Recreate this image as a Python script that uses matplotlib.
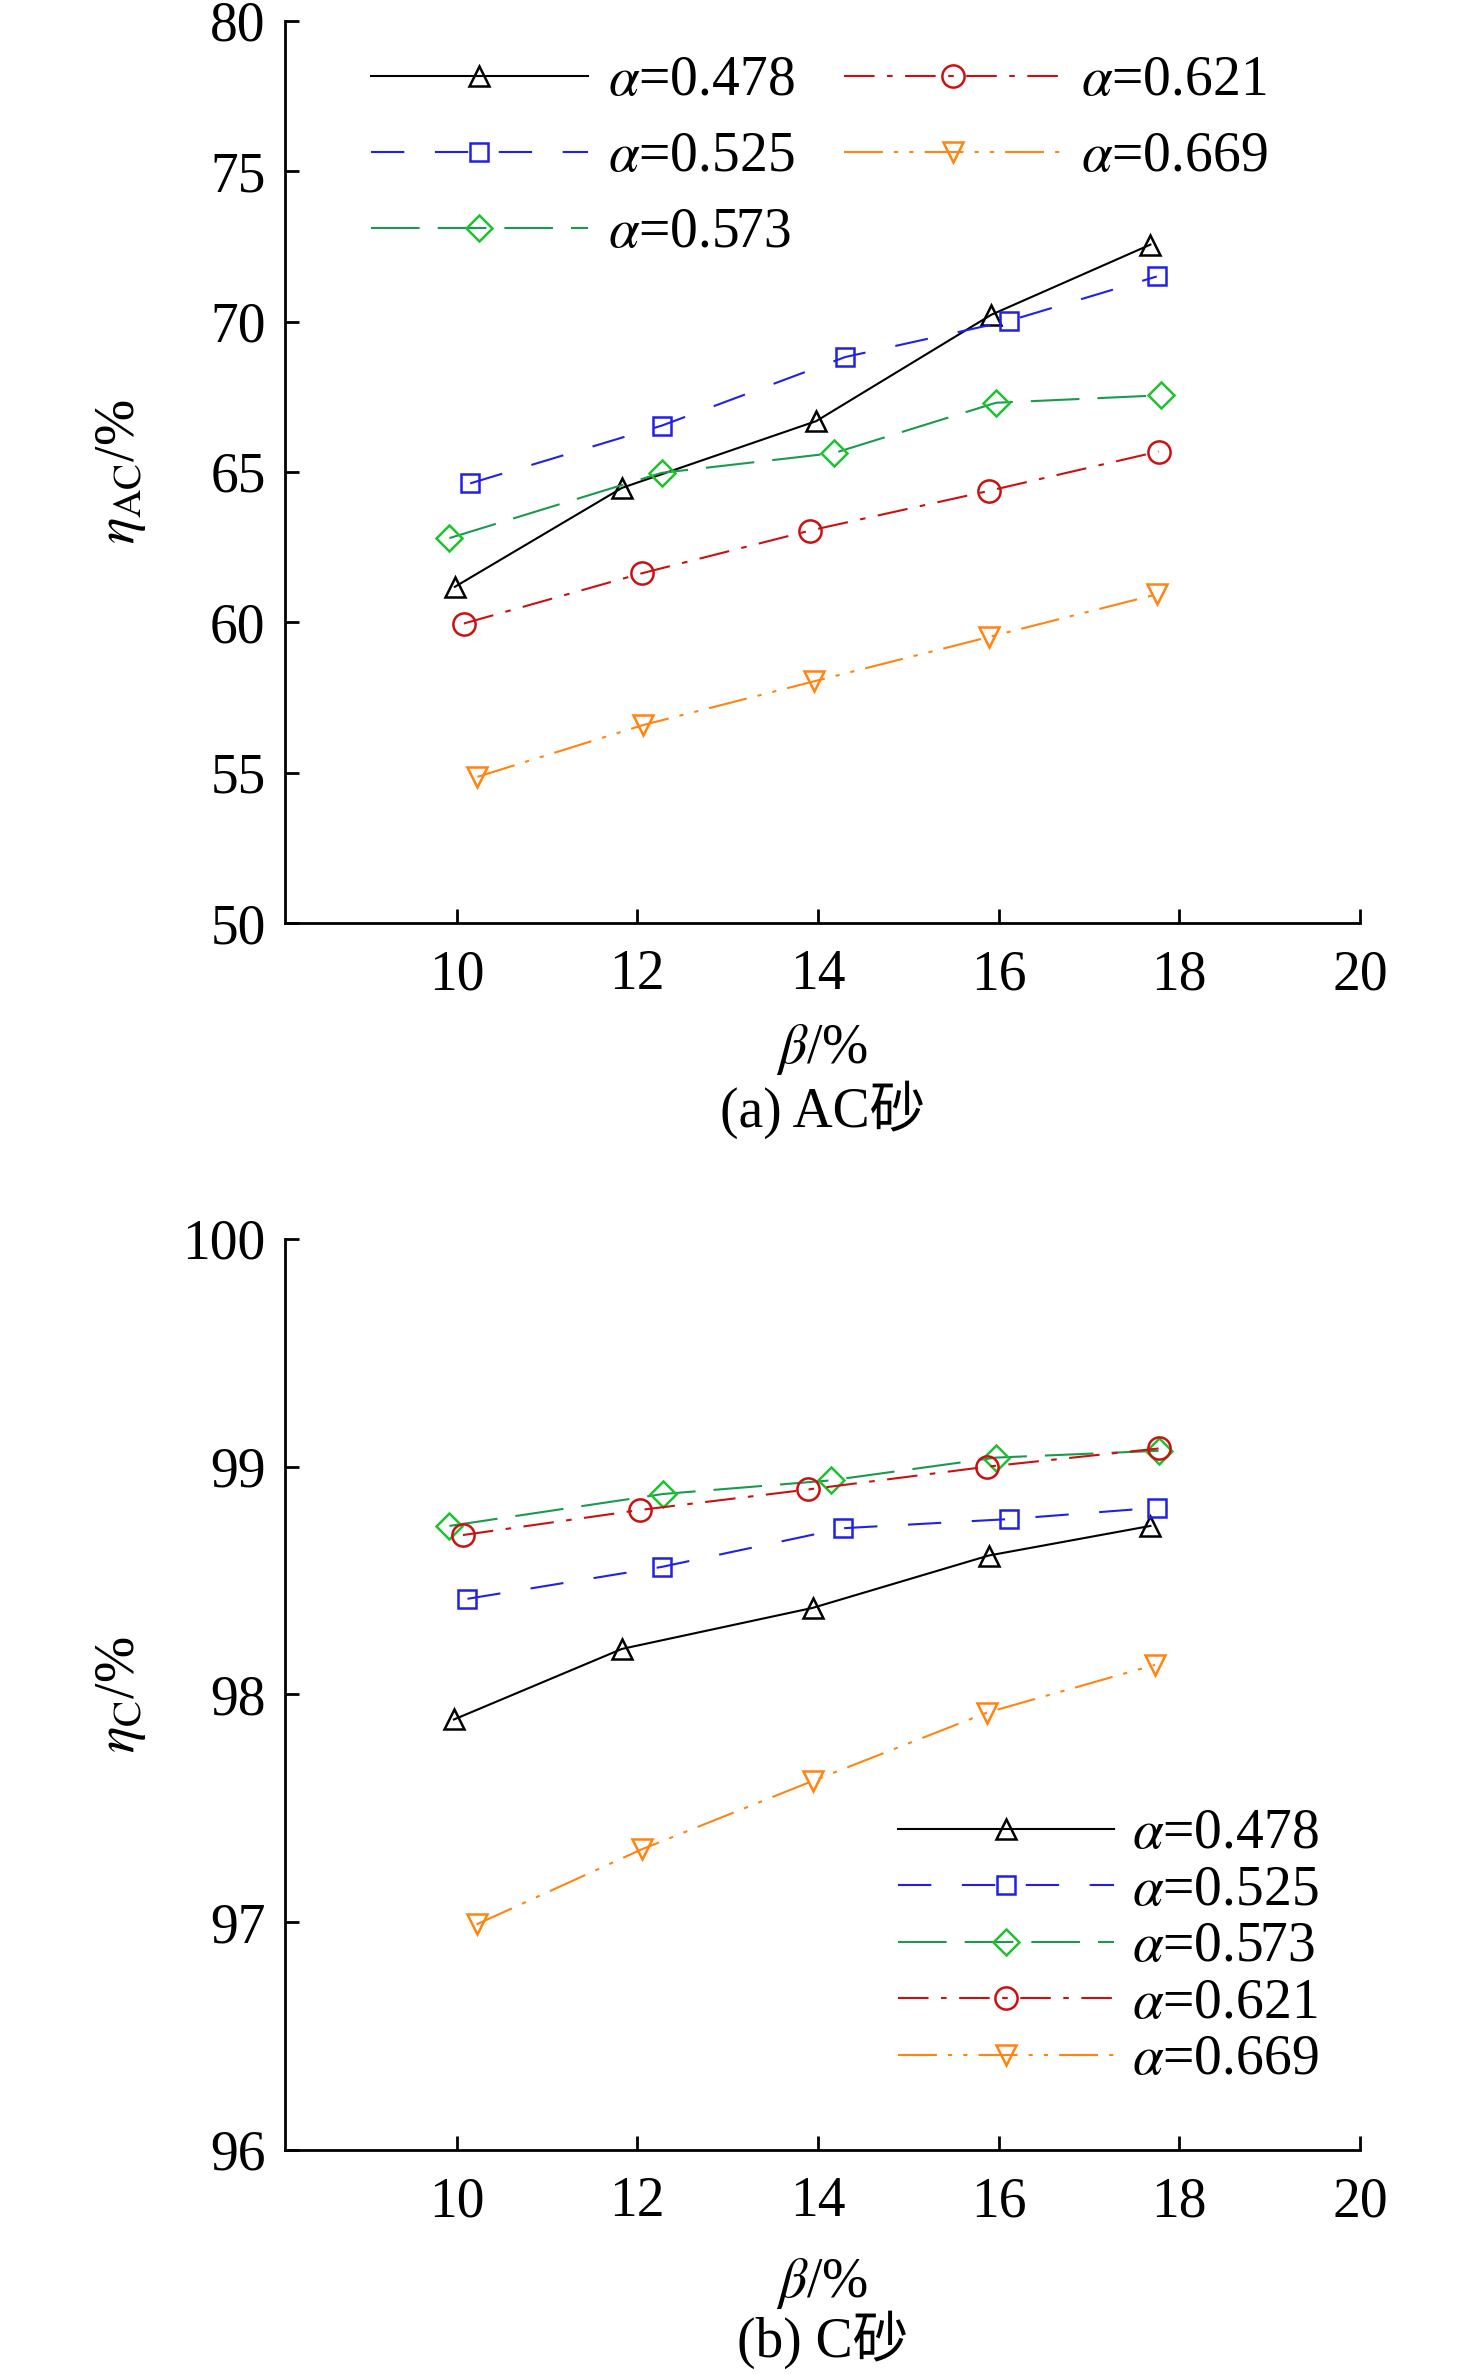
import numpy as np
import matplotlib
matplotlib.use("Agg")
import matplotlib.pyplot as plt

plt.rcParams['font.family'] = ['Liberation Serif', 'Noto Sans CJK SC']
plt.rcParams['mathtext.fontset'] = 'stix'
plt.rcParams['lines.scale_dashes'] = False

# alpha-serier
labels = [r'$\alpha$=0.478', r'$\alpha$=0.525', r'$\alpha$=0.573',
          r'$\alpha$=0.621', r'$\alpha$=0.669']

# (a) AC-sand, beta (x) och eta_AC (y)
x_ac = [[9.98, 11.83, 13.98, 15.92, 17.68],
        [10.15, 12.27, 14.30, 16.12, 17.75],
        [9.92, 12.27, 14.18, 15.97, 17.80],
        [10.08, 12.05, 13.91, 15.89, 17.77],
        [10.23, 12.06, 13.96, 15.89, 17.75]]
y_ac = [[61.18, 64.47, 66.69, 70.23, 72.56],
        [64.62, 66.54, 68.82, 70.03, 71.50],
        [62.80, 64.97, 65.63, 67.30, 67.55],
        [59.96, 61.63, 63.05, 64.37, 65.68],
        [54.86, 56.58, 58.04, 59.51, 60.93]]

# (b) C-sand
x_c = [[9.97, 11.83, 13.94, 15.89, 17.68],
       [10.12, 12.27, 14.28, 16.11, 17.75],
       [9.92, 12.28, 14.14, 15.97, 17.77],
       [10.07, 12.03, 13.89, 15.87, 17.77],
       [10.22, 12.05, 13.94, 15.87, 17.73]]
y_c = [[97.89, 98.20, 98.38, 98.61, 98.74],
       [98.42, 98.56, 98.73, 98.77, 98.82],
       [98.74, 98.88, 98.94, 99.04, 99.07],
       [98.70, 98.81, 98.90, 99.00, 99.08],
       [96.99, 97.32, 97.62, 97.92, 98.13]]

xticks = [10, 12, 14, 16, 18, 20]

# stil per serie
line_col = ['#000000', '#2020e8', '#1a9a50', '#cc1010', '#ff8410']
mark_col = ['#000000', '#2020e8', '#20c030', '#cc1010', '#ff8410']
markers = ['^', 's', 'D', 'o', 'v']
msizes = [14, 13, 13, 16, 14]
dashes = [None, (24, 22), (35, 13), (22, 9, 4, 9), (28, 8, 3, 8, 3, 8)]

FS = 40


def draw(ax, xs, ys):
    for i in range(len(labels)):
        kw = dict(color=line_col[i], lw=1.5, marker=markers[i], ms=msizes[i],
                  mfc='none', mec=mark_col[i], mew=1.8, label=labels[i])
        line, = ax.plot(xs[i], ys[i], **kw)
        if dashes[i] is not None:
            line.set_dashes(dashes[i])
    ax.spines['top'].set_visible(False)
    ax.spines['right'].set_visible(False)
    for s in ['left', 'bottom']:
        ax.spines[s].set_linewidth(2)
    ax.set_xlim(8.1, 20)
    ax.set_xticks(xticks)
    ax.tick_params(direction='in', length=10, width=2, labelsize=FS)
    ax.tick_params(axis='x', pad=19)
    ax.tick_params(axis='y', pad=14)
    ax.yaxis.set_label_coords(-0.127, 0.5)


fig = plt.figure(figsize=(14.76, 23.74), dpi=100)
ax1 = fig.add_axes([0.1931, 0.6112, 0.7283, 0.3800])
ax2 = fig.add_axes([0.1931, 0.0944, 0.7283, 0.3837])

draw(ax1, x_ac, y_ac)
ax1.set_ylim(50, 80)
ax1.set_yticks([50, 55, 60, 65, 70, 75, 80])
ax1.set_ylabel(r'$\eta_{\mathrm{AC}}$/%', fontsize=FS)
ax1.legend(loc='upper left', bbox_to_anchor=(0.080, 0.962), ncol=2, frameon=False,
           fontsize=FS, handlelength=3.9, handletextpad=0.36, columnspacing=0.9,
           labelspacing=0.43, borderpad=0, borderaxespad=0, numpoints=1)

draw(ax2, x_c, y_c)
ax2.set_ylim(96, 100)
ax2.set_yticks([96, 97, 98, 99, 100])
ax2.set_ylabel(r'$\eta_{\mathrm{C}}$/%', fontsize=FS)
ax2.legend(loc='upper left', bbox_to_anchor=(0.570, 0.375), ncol=1, frameon=False,
           fontsize=FS, handlelength=3.9, handletextpad=0.32,
           labelspacing=0.08, borderpad=0, borderaxespad=0, numpoints=1)

fig.text(0.557, 0.558, r'$\beta$/%', fontsize=FS, ha='center', va='center')
fig.text(0.557, 0.5325, '(a) AC砂', fontsize=FS, ha='center', va='center')
fig.text(0.557, 0.0383, r'$\beta$/%', fontsize=FS, ha='center', va='center')
fig.text(0.557, 0.0143, '(b) C砂', fontsize=FS, ha='center', va='center')

fig.savefig('out.png', dpi=100)
